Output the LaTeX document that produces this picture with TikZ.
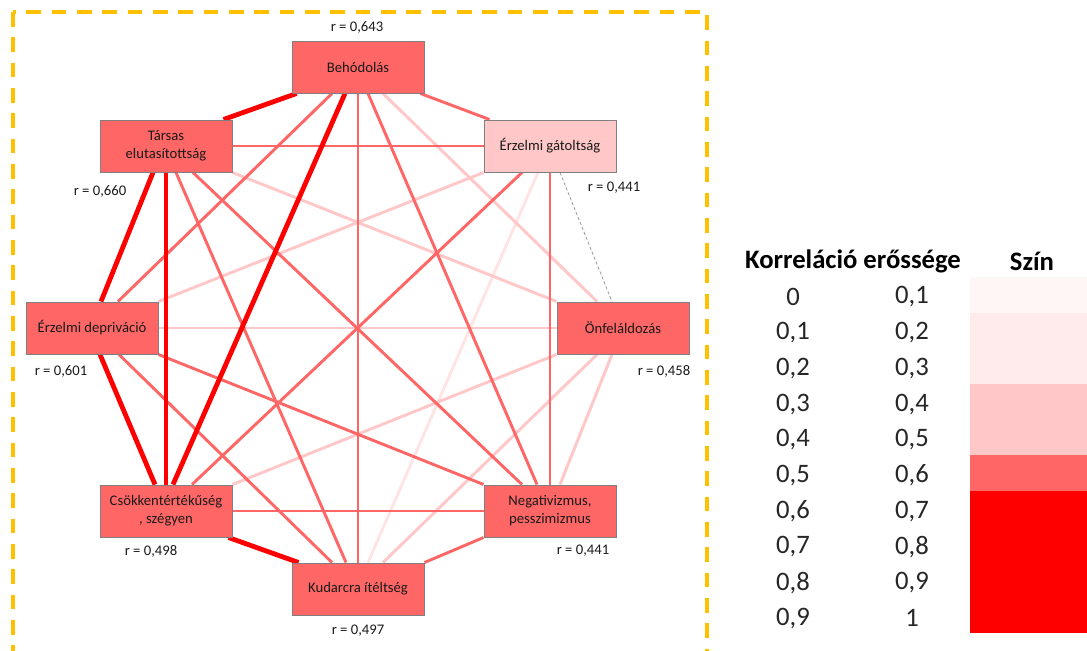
\documentclass[tikz,border=0pt]{standalone}
\usepackage{fontspec}
\setmainfont{Carlito}
\usetikzlibrary{calc}
\definecolor{corStrong}{HTML}{FF0000}
\definecolor{corMid}{HTML}{FF6666}
\definecolor{corWeak}{HTML}{FFC7C7}
\definecolor{corFaint}{HTML}{FFE4E4}
\definecolor{bandA}{HTML}{FFF6F6}
\definecolor{bandB}{HTML}{FFEBEB}
\definecolor{boxline}{HTML}{808080}
\definecolor{frameorange}{HTML}{FFC000}
\definecolor{txt}{HTML}{1A1A1A}
\pgfdeclarelayer{bg}
\pgfsetlayers{bg,main}
\begin{document}
\begin{tikzpicture}[x=0.75pt,y=-0.75pt,
  box/.style={draw=boxline, line width=0.75pt, fill=corMid, minimum width=99pt,
    minimum height=39pt, inner sep=0pt, align=center, text=txt,
    font=\fontsize{11}{13.5}\selectfont},
  rlab/.style={text=txt, inner sep=0pt, font=\fontsize{11}{13}\selectfont},
  legtext/.style={text=black!85, inner sep=0pt, font=\fontsize{20}{24}\selectfont},
  leghead/.style={text=black, inner sep=0pt, font=\bfseries\fontsize{20}{24}\selectfont},
  strongline/.style={draw=corStrong, line width=3.6pt},
  midline/.style={draw=corMid, line width=2.2pt},
  weakline/.style={draw=corWeak, line width=2.2pt},
  faintline/.style={draw=corFaint, line width=2.2pt},
  thinline/.style={draw=black!45, line width=0.5pt, dash pattern=on 2.5pt off 1.5pt}]
\useasboundingbox (0,0) rectangle (1087,650);

% schema boxes
\node[box] (B) at (358,67)  {Behódolás};
\node[box] (T) at (166,146) {Társas\\elutasítottság};
\node[box, fill=corWeak] (G) at (550,146) {Érzelmi gátoltság};
\node[box] (D) at (92,328)  {Érzelmi depriváció};
\node[box] (O) at (623,328) {Önfeláldozás};
\node[box] (C) at (166,511) {Csökkentértékűség\\, szégyen};
\node[box] (N) at (550,511) {Negativizmus,\\pesszimizmus};
\node[box] (K) at (358,589) {Kudarcra ítéltség};

% reliability values
\node[rlab] (rB) at (357,27)  {r = 0,643};
\node[rlab] (rT) at (100,191) {r = 0,660};
\node[rlab] (rG) at (614,188) {r = 0,441};
\node[rlab] (rD) at (61,371)  {r = 0,601};
\node[rlab] (rO) at (664,371) {r = 0,458};
\node[rlab] (rC) at (151,551) {r = 0,498};
\node[rlab] (rN) at (583,551) {r = 0,441};
\node[rlab] (rK) at (358,631) {r = 0,497};

\begin{pgfonlayer}{bg}
  % dashed frame around the network
  \begin{scope}
    \clip (0,0) rectangle (1087,650);
    \draw[frameorange, line width=2.6pt, dash pattern=on 11pt off 8pt]
      (13,12) rectangle (707,700);
  \end{scope}

  % very weak correlation
  \draw[faintline] ($(G.south)+(-12,0)$) -- ($(K.north)+(10,0)$);

  % weak correlations
  \draw[weakline] ($(B.south)+(25,0)$) -- ($(O.north)+(-26,0)$);
  \draw[weakline] (T.south east) -- (O.north west);
  \draw[weakline] (G.south west) -- (D.north east);
  \draw[weakline] (D.east) -- (O.west);
  \draw[weakline] (O.south west) -- (C.north east);
  \draw[weakline] ($(O.south)+(-11,0)$) -- ($(N.north)+(10,0)$);
  \draw[weakline] ($(O.south)+(-26,0)$) -- ($(K.north)+(25,0)$);

  % moderate correlations
  \draw[midline] ($(B.south east)+(-4,0)$) -- ($(G.north west)+(6,0)$);
  \draw[midline] ($(B.south)+(-26,0)$) -- ($(D.north)+(26,0)$);
  \draw[midline] ($(B.south)+(10,0)$) -- ($(N.north)+(-13,0)$);
  \draw[midline] (B.south) -- (K.north);
  \draw[midline] (T.east) -- (G.west);
  \draw[midline] ($(T.south)+(27,0)$) -- ($(N.north)+(-28,0)$);
  \draw[midline] ($(T.south)+(10,0)$) -- ($(K.north)+(-12,0)$);
  \draw[midline] ($(G.south)+(-28,0)$) -- ($(C.north)+(26,0)$);
  \draw[midline] (G.south) -- (N.north);
  \draw[midline] (D.south east) -- (N.north west);
  \draw[midline] ($(D.south)+(27,0)$) -- ($(K.north)+(-26,0)$);
  \draw[midline] (C.east) -- (N.west);
  \draw[midline] (N.south west) -- (K.north east);

  % strong correlations
  \draw[strongline] ($(B.south west)+(5,0)$) -- ($(T.north east)+(-9,0)$);
  \draw[strongline] ($(B.south)+(-13,0)$) -- ($(C.north)+(7,0)$);
  \draw[strongline] ($(T.south)+(-13,0)$) -- ($(D.north)+(9,0)$);
  \draw[strongline] (T.south) -- (C.north);
  \draw[strongline] ($(D.south)+(8,0)$) -- ($(C.north)+(-11,0)$);
  \draw[strongline] ($(C.south east)+(-4,0)$) -- ($(K.north west)+(7,0)$);

  % non-significant link
  \draw[thinline] ($(G.south)+(10,0)$) -- ($(O.north)+(-11,0)$);
\end{pgfonlayer}

% legend colour scale
\fill[bandA]     (970,277) rectangle (1087,313);
\fill[bandB]     (970,313) rectangle (1087,384);
\fill[corWeak]   (970,384) rectangle (1087,455);
\fill[corMid]    (970,455) rectangle (1087,491);
\fill[corStrong] (970,491) rectangle (1087,633);

\node[leghead] (lh1) at (853,261) {Korreláció erőssége};
\node[leghead] (lh2) at (1032,261) {Szín};
\foreach \lo/\hi [count=\i from 0] in {0/{0,1},{0,1}/{0,2},{0,2}/{0,3},{0,3}/{0,4},{0,4}/{0,5},{0,5}/{0,6},{0,6}/{0,7},{0,7}/{0,8},{0,8}/{0,9},{0,9}/1}{
  \node[legtext] (lo\i) at (793,{297+35.7*\i}) {\lo};
  \node[legtext] (hi\i) at (912,{297+35.7*\i}) {\hi};
}
\end{tikzpicture}
\end{document}
